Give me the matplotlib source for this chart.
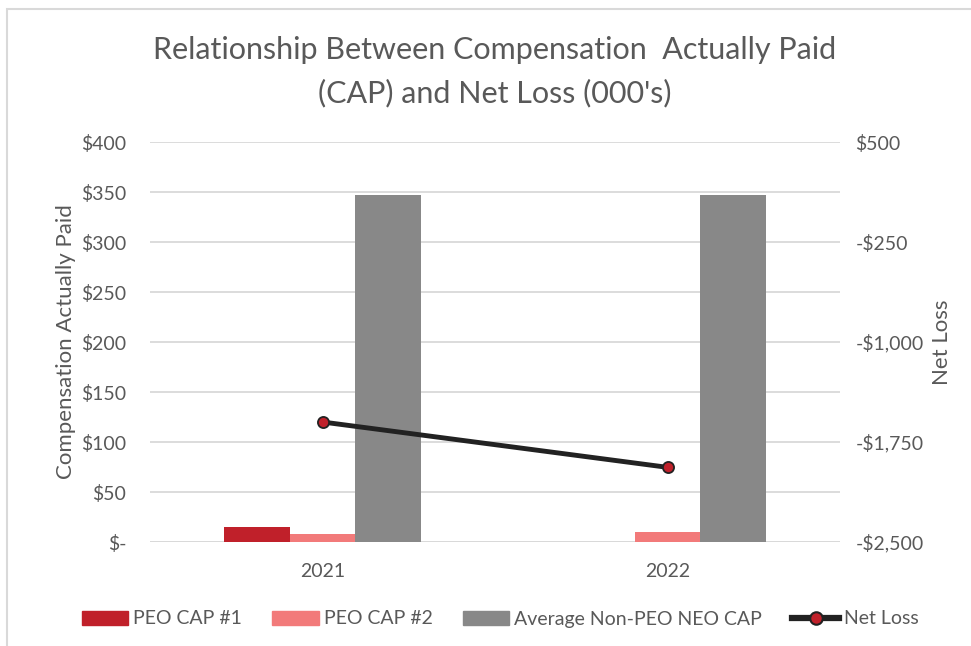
import matplotlib
matplotlib.use("Agg")
import matplotlib.pyplot as plt
import numpy as np
from matplotlib.patches import Rectangle
from matplotlib.lines import Line2D

plt.rcParams['font.family'] = ['Lato', 'DejaVu Sans']

years = ["2021", "2022"]
peo_cap_1 = [15.5, 0]
peo_cap_2 = [7.7, 9.7]
avg_non_peo = [347, 347]
net_loss = [-1600, -1940]

left_ticks = [0, 50, 100, 150, 200, 250, 300, 350, 400]
left_labels = ["$-", "$50", "$100", "$150", "$200", "$250", "$300", "$350", "$400"]
right_ticks = [-2500, -1750, -1000, -250, 500]
right_labels = ["-$2,500", "-$1,750", "-$1,000", "-$250", "$500"]

c1 = "#C0202A"
c2 = "#F27A7A"
c3 = "#888888"
txt = "#595959"
grid = "#D9D9D9"

fig = plt.figure(figsize=(9.71, 6.46), dpi=100)
fig.patches.append(Rectangle((7/971, -0.1), 1.2, 1 - 9/646 + 0.1, transform=fig.transFigure,
                             fill=False, edgecolor="#D9D9D9", linewidth=1.5))
ax = fig.add_axes([150/971, 1 - 542/646, 690/971, 400/646])
x = np.arange(len(years))
w = 0.19
ax.bar(x - w, peo_cap_1, w, color=c1, label="PEO CAP #1", zorder=2)
ax.bar(x, peo_cap_2, w, color=c2, label="PEO CAP #2", zorder=2)
ax.bar(x + w, avg_non_peo, w, color=c3, label="Average Non-PEO NEO CAP", zorder=2)
ax.set_xlim(-0.5, 1.5)
ax.set_ylim(0, 400)
ax.set_yticks(left_ticks)
ax.set_yticklabels(left_labels)
ax.set_xticks(x)
ax.set_xticklabels(years)
for s in ax.spines.values():
    s.set_visible(False)
ax.yaxis.grid(True, color=grid, linewidth=1.3, zorder=0)
ax.set_axisbelow(True)
ax.axhline(0, color=grid, linewidth=1.3, zorder=1)
ax.tick_params(axis='both', length=0, labelsize=14, colors=txt)
ax.tick_params(axis='y', pad=17)
ax.tick_params(axis='x', pad=15)
ax.set_ylabel("Compensation Actually Paid", fontsize=16, color=txt, labelpad=4)

ax2 = ax.twinx()
ax2.plot(x, net_loss, color="#222222", linewidth=3.5, marker='o', markersize=8,
         markerfacecolor="#C0202A", markeredgecolor="#222222", markeredgewidth=1.3, zorder=5)
ax2.set_ylim(-2500, 500)
ax2.set_yticks(right_ticks)
ax2.set_yticklabels(right_labels)
for s in ax2.spines.values():
    s.set_visible(False)
ax2.tick_params(axis='y', length=0, labelsize=14, colors=txt, pad=11)
ax2.set_ylabel("Net Loss", fontsize=16, color=txt, labelpad=6)

fig.text(495/971, 1 - 50/646, "Relationship Between Compensation  Actually Paid",
         ha='center', va='center', fontsize=22, color=txt)
fig.text(495/971, 1 - 93/646, "(CAP) and Net Loss (000's)",
         ha='center', va='center', fontsize=22, color=txt)

handles = [Rectangle((0, 0), 1, 1, color=c1), Rectangle((0, 0), 1, 1, color=c2),
           Rectangle((0, 0), 1, 1, color=c3),
           Line2D([0], [0], color="#222222", linewidth=4.5, marker='o', markersize=9,
                  markerfacecolor="#C0202A", markeredgecolor="#222222", markeredgewidth=1.5)]
labels = ["PEO CAP #1", "PEO CAP #2", "Average Non-PEO NEO CAP", "Net Loss"]
leg = fig.legend(handles, labels, loc='center', bbox_to_anchor=(500/971, 1 - 619/646),
                 ncol=4, frameon=False, fontsize=14, handlelength=2.4, handleheight=0.7,
                 handletextpad=0.25, columnspacing=1.55)
for t in leg.get_texts():
    t.set_color(txt)

fig.savefig("out.png", dpi=100)
